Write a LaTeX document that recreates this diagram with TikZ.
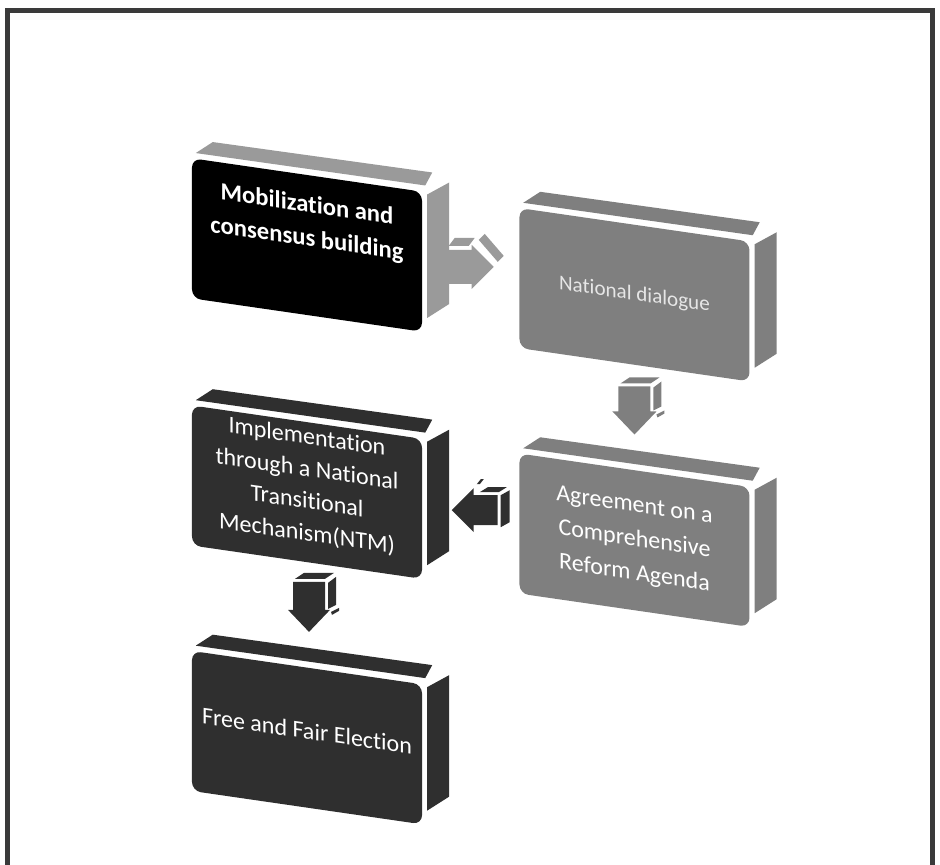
\documentclass[tikz,border=0pt]{standalone}
\usepackage{fontspec}
\setmainfont[Ligatures=NoCommon]{Carlito}
\usetikzlibrary{calc,positioning}
\definecolor{stepblack}{HTML}{000000}
\definecolor{stepgray}{HTML}{7F7F7F}
\definecolor{steplight}{HTML}{9A9A9A}
\definecolor{stepdark}{HTML}{2F2F2F}
\definecolor{framegray}{HTML}{3A3A3A}
\definecolor{dimwhite}{HTML}{E6E6E6}
\tikzset{
  stepbox/.style={fill=#1,rounded corners=0.27cm,minimum width=6.9cm,minimum height=4.2cm,
    inner sep=0pt,align=center,text=white,yslant=-0.145,font=\fontsize{21}{29}\selectfont},
  depthface/.style={fill=#1}
}
% top and right faces of a block
\newcommand\stepdepth[2]{%
  \fill[depthface=#2] ($(#1.north west)+(4,-5)$) -- ($(#1.north east)+(3,-6)$)
    -- ($(#1.north east)+(10,-19)$) -- ($(#1.north west)+(21,-16)$) -- cycle;
  \fill[depthface=#2] ($(#1.north east)+(5,3)$) -- ($(#1.north east)+(27,-9)$)
    -- ($(#1.south east)+(27,-28)$) -- ($(#1.south east)+(5,-14)$) -- cycle;}
\begin{document}
\begin{tikzpicture}[x=0.03cm,y=-0.03cm]
  \useasboundingbox (0,0) rectangle (940,865);
  \draw[framegray,line width=0.15cm] (7.5,865) -- (7.5,10) -- (932.5,10) -- (932.5,865);
  % blocks
  \node[stepbox=stepblack,font=\fontsize{21}{29}\selectfont\bfseries] (mob) at (307,245)
    {Mobilization and\\consensus building\\[13pt]~};
  \node[stepbox=stepgray,right=2.91cm of mob,yshift=-0.49cm,text=dimwhite,font=\fontsize{18}{22}\selectfont] (dia)
    {National dialogue};
  \node[stepbox=stepgray,below=3.15cm of dia,font=\fontsize{20.5}{29}\selectfont] (agr)
    {Agreement on a\\Comprehensive\\Reform Agenda};
  \node[stepbox=stepdark,below=3.2cm of mob,font=\fontsize{20.5}{27.5}\selectfont] (ntm)
    {Implementation\\through a National\\Transitional\\Mechanism(NTM)\\[-14pt]~};
  \node[stepbox=stepdark,below=3.15cm of ntm,font=\fontsize{20.5}{28}\selectfont] (fae)
    {Free and Fair Election\\[-16pt]~};
  \stepdepth{mob}{steplight}
  \stepdepth{dia}{stepgray}
  \stepdepth{agr}{stepgray}
  \stepdepth{ntm}{stepdark}
  \stepdepth{fae}{stepdark}
  % block arrows between the blocks
  \coordinate (a12) at ($(mob.east)!0.5!(dia.west)+(0,-3)$);
  \coordinate (a23) at ($(dia.south)!0.5!(agr.north)+(0,-7)$);
  \coordinate (a34) at ($(agr.west)!0.5!(ntm.east)+(4,-6)$);
  \coordinate (a45) at ($(ntm.south)!0.5!(fae.north)+(2,-8)$);
  \begin{scope}[shift={(a12)},steplight]
    \fill (-23,-17) -- (1,-17) -- (1,-22) -- (23,0) -- (1,22) -- (1,17) -- (-23,17) -- cycle;
    \fill (-22,-21) -- (-2,-21) -- (4,-29) -- (-16,-29) -- cycle;
    \fill (8,-27) -- (14,-33) -- (33,-11) -- (27,-5) -- cycle;
  \end{scope}
  \begin{scope}[shift={(a23)},stepgray]
    \fill (-16,-24) -- (16,-24) -- (16,1) -- (22,1) -- (0,24) -- (-22,1) -- (-16,1) -- cycle;
    \fill (-14,-27) -- (16,-27) -- (25,-33) -- (-5,-33) -- cycle;
    \fill (19,-23) -- (27,-29) -- (27,-4) -- (19,0) -- cycle;
    \fill (22,4) -- (30,0) -- (30,3) -- (23,7) -- cycle;
  \end{scope}
  \begin{scope}[shift={(a34)},stepdark]
    \fill (23,-15) -- (-1,-15) -- (-1,-22) -- (-23,0) -- (-1,22) -- (-1,15) -- (23,15) -- cycle;
    \fill (5,-18) -- (24,-18) -- (32,-23) -- (13,-23) -- cycle;
    \fill (26,-15) -- (35,-20) -- (35,12) -- (26,17) -- cycle;
    \fill (2,-26) -- (6,-31) -- (9,-31) -- (5,-26) -- cycle;
  \end{scope}
  \begin{scope}[shift={(a45)},stepdark]
    \fill (-16,-25) -- (16,-25) -- (16,3) -- (21,3) -- (0,25) -- (-21,3) -- (-16,3) -- cycle;
    \fill (-14,-28) -- (16,-28) -- (25,-34) -- (-5,-34) -- cycle;
    \fill (19,-24) -- (27,-30) -- (27,-2) -- (19,2) -- cycle;
    \fill (22,5) -- (30,1) -- (30,4) -- (23,8) -- cycle;
  \end{scope}
\end{tikzpicture}
\end{document}
